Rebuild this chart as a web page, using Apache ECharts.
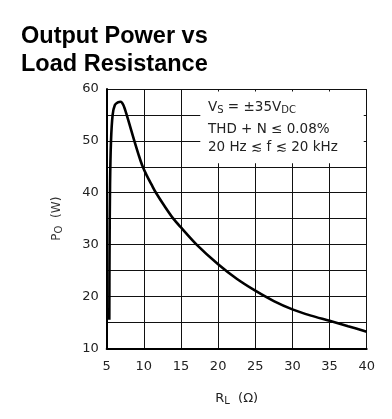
<!DOCTYPE html>
<html>
<head>
<meta charset="utf-8">
<script src="https://cdn.jsdelivr.net/npm/echarts@6/dist/echarts.min.js"></script>
<style>html,body{margin:0;padding:0;background:#fff}#c{width:392px;height:419px}</style>
</head>
<body>
<div id="c"></div>
<script>
// Load resistance (ohm) and output power (W)
const rl = [5.35, 5.38, 5.45, 5.58, 5.8, 6.1, 6.5, 6.88, 7.24, 7.69, 8.72, 9.3, 9.8, 10.4, 11.06, 11.63, 12.8, 13.97, 15, 17.1, 20, 22.5, 25, 27.5, 30, 32.5, 35, 37.5, 40];
const po = [15.5, 28, 41.5, 50, 55, 56.9, 57.4, 57.55, 56.9, 55, 50, 47.3, 45.2, 43.3, 41.5, 40, 37.4, 35, 33.3, 30, 26.2, 23.4, 21.1, 19.1, 17.5, 16.3, 15.3, 14.25, 13.2];
const xTicks = [5, 10, 15, 20, 25, 30, 35, 40];
const yTicks = [10, 20, 30, 40, 50, 60];
const noteLines = ['V{sub|S} = \u00b135V{sub|DC}', 'THD + N \u2264 0.08%', '20 Hz \u2272 f \u2272 20 kHz'];

const chart = echarts.init(document.getElementById('c'), null, {renderer: 'canvas'});
const tickFont = {fontFamily: 'DejaVu Sans', fontSize: 13, color: '#222'};
chart.setOption({
  animation: false,
  backgroundColor: '#fff',
  title: {
    text: 'Output Power vs\nLoad Resistance',
    left: 16, top: 18,
    textStyle: {fontFamily: 'Liberation Sans, Arial, sans-serif', fontWeight: 'bold', fontSize: 23.5, lineHeight: 27.5, color: '#000'}
  },
  grid: {left: 106.7, right: 25.3, top: 89, bottom: 70.7},
  xAxis: {
    type: 'value', min: 5, max: 40, interval: 5,
    axisLine: {show: true, onZero: false, lineStyle: {color: '#000', width: 2}},
    axisTick: {show: false},
    splitLine: {show: true, lineStyle: {color: '#111', width: 1}},
    axisLabel: Object.assign({margin: 12, formatter: v => xTicks.includes(v) ? String(v) : ''}, tickFont),
    name: 'R{sub|L}  (\u03a9)', nameLocation: 'middle', nameGap: 42,
    nameTextStyle: {fontFamily: 'DejaVu Sans', fontSize: 13, color: '#222', rich: {sub: {fontFamily: 'DejaVu Sans', fontSize: 10, color: '#222', verticalAlign: 'bottom', padding: [6, 0, 0, 0]}}}
  },
  yAxis: {
    type: 'value', min: 10, max: 60, interval: 5,
    axisLine: {show: true, onZero: false, lineStyle: {color: '#000', width: 2}},
    axisTick: {show: false},
    splitLine: {show: true, lineStyle: {color: '#111', width: 1}},
    axisLabel: Object.assign({margin: 8, formatter: v => yTicks.includes(v) ? String(v) : ''}, tickFont),
    name: 'P{sub|O}  (W)', nameLocation: 'middle', nameGap: 42, nameRotate: 90,
    nameTextStyle: {fontFamily: 'DejaVu Sans', fontSize: 12, color: '#333', rich: {sub: {fontFamily: 'DejaVu Sans', fontSize: 10, color: '#333', verticalAlign: 'bottom', padding: [6, 0, 0, 0]}}}
  },
  series: [{
    type: 'line',
    data: rl.map((x, i) => [x, po[i]]),
    smooth: 0.3,
    symbol: 'none',
    lineStyle: {color: '#000', width: 2.6},
    markArea: {
      silent: true,
      itemStyle: {color: '#fff', opacity: 1},
      data: [[{coord: [17.6, 45.7]}, {coord: [39.6, 59.5]}]]
    },
    z: 2
  }],
  graphic: noteLines.map((t, i) => ({
    type: 'text', left: 208, top: [100, 122, 140][i], z: 100,
    style: {
      text: t, fontFamily: 'DejaVu Sans', fontSize: 13.5, fill: '#222',
      rich: {sub: {fontFamily: 'DejaVu Sans', fontSize: 10, fill: '#222', verticalAlign: 'bottom', padding: [7, 0, 0, 0]}}
    }
  }))
});
</script>
</body>
</html>
